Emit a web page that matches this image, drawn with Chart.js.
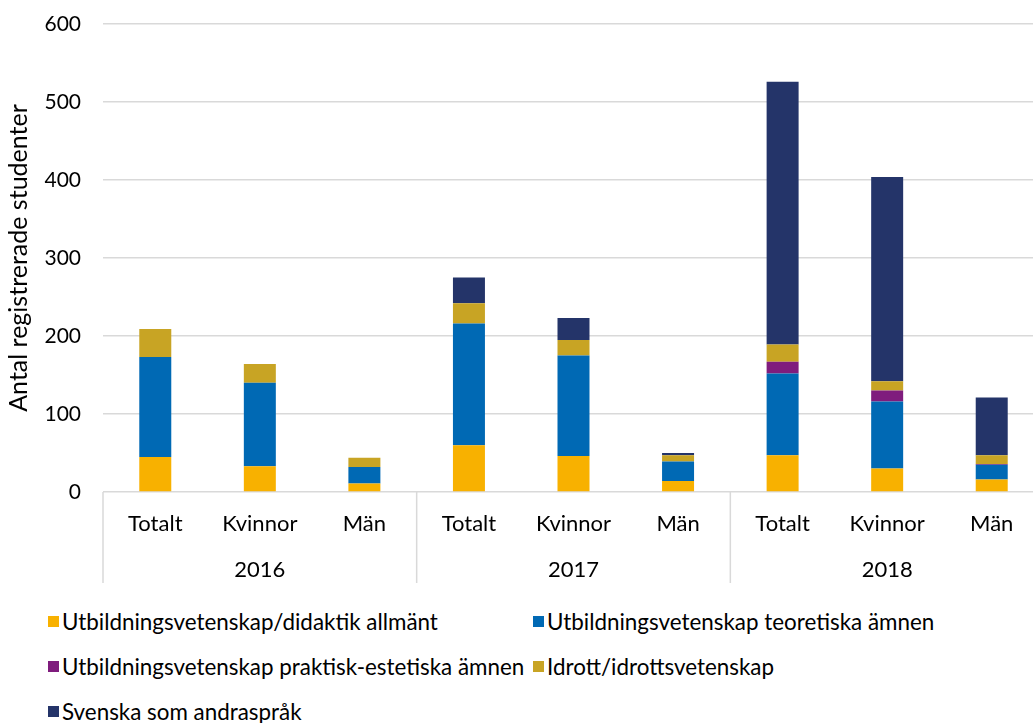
<!DOCTYPE html>
<html>
<head>
<meta charset="utf-8">
<script src="https://cdn.jsdelivr.net/npm/chart.js@4"></script>
<style>
  html, body { margin: 0; padding: 0; background: #fff; overflow: hidden; width: 1033px; height: 723px; }
  #wrap { position: absolute; left: 0; top: 0; width: 1045px; height: 600px; }
  #legend { position: absolute; left: 48px; top: 608px; width: 985px; display: grid; grid-template-columns: 485px auto; row-gap: 19px; font-family: Lato, sans-serif; font-size: 22.4px; color: #000; }
  .li { display: flex; align-items: center; height: 26px; white-space: nowrap; }
  .sw { width: 11px; height: 11px; margin-right: 3px; flex: none; }
</style>
</head>
<body>
<div id="wrap"><canvas id="c"></canvas></div>
<div id="legend"></div>
<script>
const categories = ['Totalt', 'Kvinnor', 'Män', 'Totalt', 'Kvinnor', 'Män', 'Totalt', 'Kvinnor', 'Män'];
const years = ['2016', '2017', '2018'];
const yTicks = [0, 100, 200, 300, 400, 500, 600];

const seriesNames = [
  'Utbildningsvetenskap/didaktik allmänt',
  'Utbildningsvetenskap teoretiska ämnen',
  'Utbildningsvetenskap praktisk-estetiska ämnen',
  'Idrott/idrottsvetenskap',
  'Svenska som andraspråk'
];
const seriesColors = ['#F8B100', '#0069B4', '#7F1C7D', '#C8A424', '#243469'];

const allmant     = [45, 33, 11, 60, 46, 14, 47, 30, 16];
const teoretiska  = [128, 107, 21, 156, 129, 25, 105, 86, 19];
const praktisk    = [0, 0, 0, 0, 0, 0, 15, 14, 1];
const idrott      = [36, 24, 12, 26, 20, 8, 22, 12, 11];
const svenska     = [0, 0, 0, 33, 28, 3, 337, 262, 74];

const seriesValues = [allmant, teoretiska, praktisk, idrott, svenska];

const FONT = 'Lato, sans-serif';
const GRID = '#d9d9d9';

const separators = {
  id: 'separators',
  afterDraw(chart) {
    const x = chart.scales.x;
    const ctx = chart.ctx;
    const half = (x.getPixelForValue(1) - x.getPixelForValue(0)) / 2;
    ctx.save();
    ctx.strokeStyle = GRID;
    ctx.lineWidth = 1.5;
    for (let i = 0; i <= categories.length; i += 3) {
      const px = x.getPixelForValue(0) - half + i * 2 * half;
      ctx.beginPath();
      ctx.moveTo(px, chart.chartArea.bottom);
      ctx.lineTo(px, chart.height - 17);
      ctx.stroke();
    }
    ctx.restore();
  }
};

new Chart(document.getElementById('c'), {
  type: 'bar',
  data: {
    labels: categories,
    datasets: seriesNames.map((n, i) => ({
      label: n,
      data: seriesValues[i],
      backgroundColor: seriesColors[i],
      borderWidth: 0,
      barPercentage: 0.306,
      categoryPercentage: 1.0
    }))
  },
  options: {
    responsive: true,
    maintainAspectRatio: false,
    animation: false,
    layout: { padding: { top: 24, right: 1, left: 0, bottom: 0 } },
    plugins: { legend: { display: false }, tooltip: { enabled: false } },
    scales: {
      x: {
        stacked: true,
        grid: { display: false },
        border: { display: false },
        ticks: { color: '#000', font: { family: FONT, size: 22 }, padding: 11, maxRotation: 0, autoSkip: false },
        afterFit(s) { s.height = 56; }
      },
      x2: {
        type: 'category',
        labels: years,
        position: 'bottom',
        offset: true,
        grid: { display: false },
        border: { display: false },
        ticks: { color: '#000', font: { family: FONT, size: 22 }, padding: 1, maxRotation: 0 },
        afterFit(s) { s.height = 52; }
      },
      y: {
        stacked: true,
        min: 0,
        max: 600,
        afterBuildTicks(s) { s.ticks = yTicks.map(v => ({ value: v })); },
        grid: { color: GRID, lineWidth: 1.5, drawTicks: false },
        border: { display: false },
        ticks: { color: '#000', font: { family: FONT, size: 21 }, padding: 22 },
        title: { display: true, text: 'Antal registrerade studenter', color: '#000', font: { family: FONT, size: 25 }, padding: { top: 4, bottom: 0 } },
        afterFit(s) { s.width = 103; s.paddingTop = 10; s.paddingBottom = 0; }
      }
    }
  },
  plugins: [separators]
});

const lg = document.getElementById('legend');
seriesNames.forEach((n, i) => {
  const d = document.createElement('div');
  d.className = 'li';
  const sw = document.createElement('span');
  sw.className = 'sw';
  sw.style.background = seriesColors[i];
  const t = document.createElement('span');
  t.textContent = n;
  d.appendChild(sw); d.appendChild(t);
  lg.appendChild(d);
});
</script>
</body>
</html>
